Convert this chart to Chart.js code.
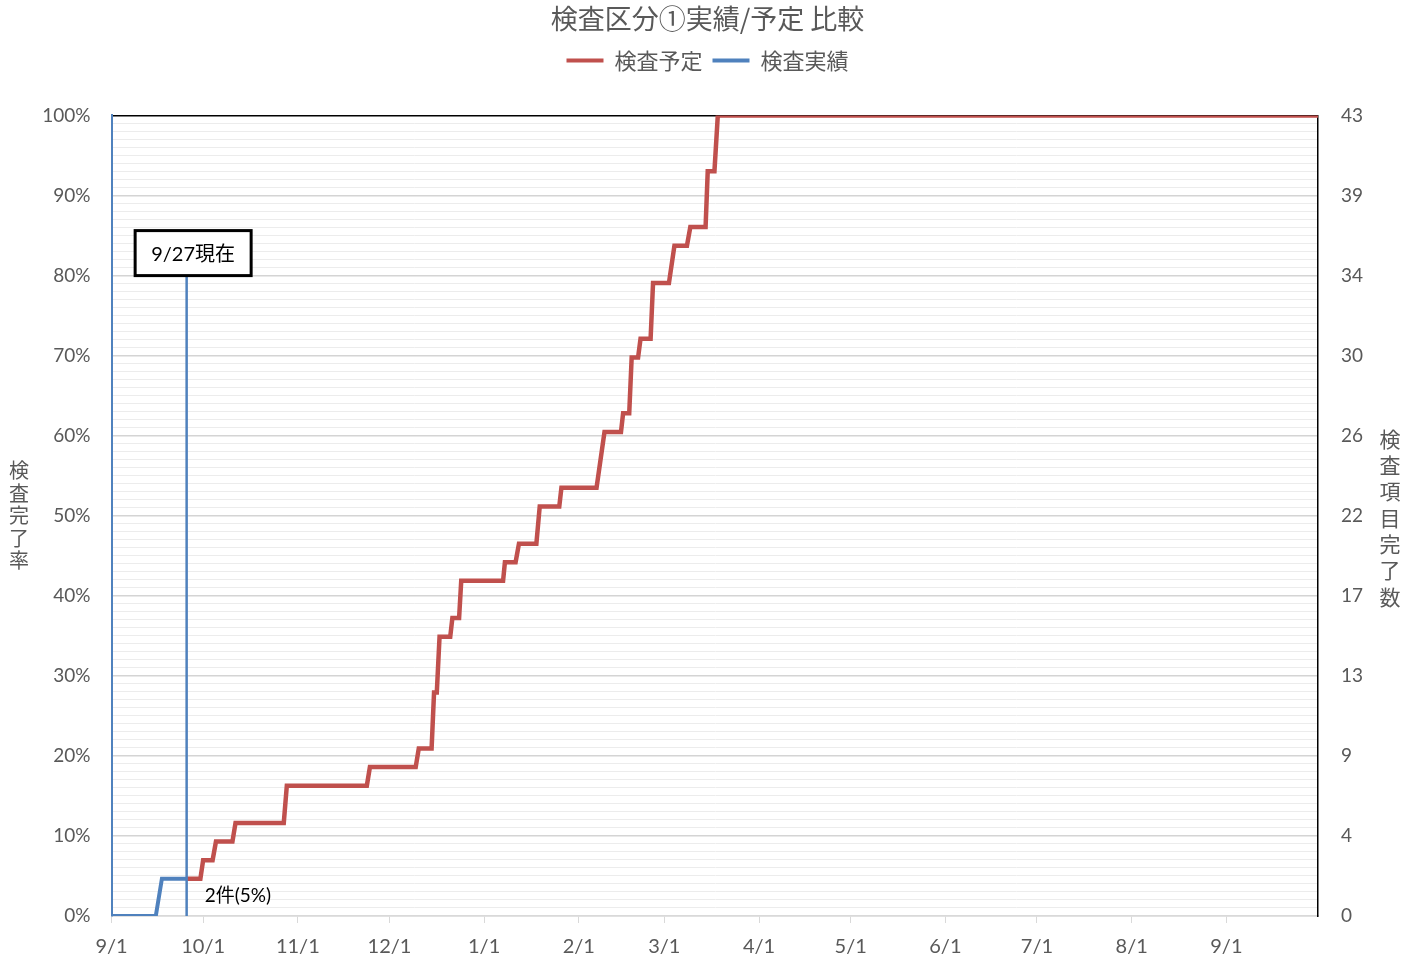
<!DOCTYPE html>
<html>
<head>
<meta charset="utf-8">
<script src="https://cdn.jsdelivr.net/npm/chart.js@4/dist/chart.umd.min.js"></script>
<style>
  html, body { margin: 0; padding: 0; background: #fff; }
  #wrap { width: 1415px; height: 966px; position: relative; }
</style>
</head>
<body>
<div id="wrap"><canvas id="c"></canvas></div>
<script>
// ---- data (x = days since 9/1) ----
const chartTitle = '検査区分①実績/予定 比較';
const seriesNames = ['検査予定', '検査実績'];
const totalItems = 43;

const xTickDays   = [0, 30, 61, 91, 122, 153, 181, 212, 242, 273, 303, 334, 365];
const xTickLabels = ['9/1','10/1','11/1','12/1','1/1','2/1','3/1','4/1','5/1','6/1','7/1','8/1','9/1'];
const xMaxDay = 395;

const leftTickLabels  = ['0%','10%','20%','30%','40%','50%','60%','70%','80%','90%','100%'];
const rightTickLabels = ['0','4','9','13','17','22','26','30','34','39','43'];
const leftAxisTitle  = '検査完了率';
const rightAxisTitle = '検査項目完了数';

// 検査予定 (planned cumulative count)
const planDay   = [24.7, 29.1, 30.0, 33.1, 34.2, 39.6, 40.6, 56.4, 57.4, 83.6, 84.6, 99.6, 100.6, 104.8, 105.6, 106.5, 107.4, 110.9, 111.6, 113.8, 114.5, 128.2, 128.8, 132.3, 133.4, 139.1, 140.2, 146.6, 147.3, 158.8, 161.4, 166.8, 167.5, 169.5, 170.3, 172.4, 173.2, 176.5, 177.3, 182.5, 184.3, 188.4, 189.5, 194.5, 195.2, 197.4, 198.5, 395];
const planCount = [2, 2, 3, 3, 4, 4, 5, 5, 7, 7, 8, 8, 9, 9, 12, 12, 15, 15, 16, 16, 18, 18, 19, 19, 20, 20, 22, 22, 23, 23, 26, 26, 27, 27, 30, 30, 31, 31, 34, 34, 36, 36, 37, 37, 40, 40, 43, 43];

// 検査実績 (actual cumulative count)
const actualDay   = [0, 14.5, 16.5, 24.6];
const actualCount = [0, 0, 2, 2];

// annotations
const markerDay = 24.6;
const markerLabel = '9/27現在';
const markerPct = 82.8;
const actualNote = '2件(5%)';
const actualNotePct = 2.5;

// ---- styling ----
const RED = '#c0504d';
const BLUE = '#4f81bd';
const GRAY = '#595959';
const FONT = "Lato, 'Noto Sans CJK JP', sans-serif";
const JFONT = "'Noto Sans CJK JP', sans-serif";

const toPts = (days, counts) => days.map((d, i) => ({ x: d, y: counts[i] / totalItems * 100 }));

const decor = {
  id: 'decor',
  afterDatasetsDraw(chart) {
    const { ctx, chartArea, scales: { x, y } } = chart;
    const mx = x.getPixelForValue(markerDay);
    const bw = 116, bh = 45;
    const bcx = mx + 6.5, bcy = y.getPixelForValue(markerPct);
    ctx.save();
    // marker line
    ctx.strokeStyle = BLUE; ctx.lineWidth = 2.5;
    ctx.beginPath(); ctx.moveTo(mx, bcy + bh / 2); ctx.lineTo(mx, chartArea.bottom); ctx.stroke();
    // marker box
    ctx.fillStyle = '#fff';
    ctx.fillRect(bcx - bw / 2, bcy - bh / 2, bw, bh);
    ctx.strokeStyle = '#000'; ctx.lineWidth = 3;
    ctx.strokeRect(bcx - bw / 2, bcy - bh / 2, bw, bh);
    ctx.fillStyle = '#000'; ctx.font = '20px ' + FONT;
    ctx.textAlign = 'center'; ctx.textBaseline = 'middle';
    ctx.fillText(markerLabel, bcx, bcy + 1);
    // actual note
    ctx.font = '19px ' + FONT; ctx.textAlign = 'left';
    ctx.fillText(actualNote, mx + 18, y.getPixelForValue(actualNotePct));
    // axis titles (stacked upright characters)
    ctx.fillStyle = GRAY; ctx.textAlign = 'center';
    const midY = (chartArea.top + chartArea.bottom) / 2;
    ctx.font = '20px ' + JFONT;
    const lc = [...leftAxisTitle];
    lc.forEach((ch, i) => ctx.fillText(ch, 19, midY + (i - (lc.length - 1) / 2) * 22.5));
    ctx.font = '21px ' + JFONT;
    const rc = [...rightAxisTitle];
    rc.forEach((ch, i) => ctx.fillText(ch, 1390, midY + 2 + (i - (rc.length - 1) / 2) * 26.3));
    ctx.restore();
  }
};

new Chart(document.getElementById('c'), {
  type: 'line',
  data: {
    datasets: [
      { label: seriesNames[0], data: toPts(planDay, planCount), borderColor: RED, backgroundColor: RED,
        borderWidth: 4.5, pointRadius: 0, tension: 0, yAxisID: 'y' },
      { label: seriesNames[1], data: toPts(actualDay, actualCount), borderColor: BLUE, backgroundColor: BLUE,
        borderWidth: 4, pointRadius: 0, tension: 0, yAxisID: 'y' }
    ]
  },
  options: {
    responsive: true, maintainAspectRatio: false, animation: false, devicePixelRatio: 1,
    layout: { padding: 0 },
    plugins: {
      title: { display: true, text: chartTitle, color: GRAY, font: { family: JFONT, size: 27, weight: 'normal' },
               padding: { top: 3, bottom: 4 } },
      subtitle: { display: true, text: '', font: { size: 1, lineHeight: 1 }, padding: { top: 33, bottom: 0 } },
      legend: { display: true, weight: 1700,
        labels: { color: GRAY, font: { family: JFONT, size: 22 }, boxWidth: 37, boxHeight: 4, padding: 10,
          generateLabels(chart) {
            return chart.data.datasets.map((ds, i) => ({ text: ds.label, fillStyle: ds.borderColor, strokeStyle: ds.borderColor,
              lineWidth: 0, hidden: false, datasetIndex: i, fontColor: GRAY }));
          } } },
      tooltip: { enabled: false }
    },
    scales: {
      x: { type: 'linear', min: 0, max: xMaxDay,
        afterBuildTicks(s) { s.ticks = xTickDays.map(v => ({ value: v })); },
        afterFit(s) { s.height = 50; },
        ticks: { autoSkip: false, maxRotation: 0, color: GRAY, font: { family: FONT, size: 20 }, padding: 12,
          callback(v, i) { return xTickLabels[i]; } },
        grid: { drawOnChartArea: false, drawTicks: true, tickLength: 7, color: '#d9d9d9' },
        border: { display: true, color: '#d9d9d9', width: 1.5 } },
      y: { position: 'left', min: 0, max: 100,
        afterBuildTicks(s) { const t = []; for (let v = 0; v <= 100; v++) t.push({ value: v }); s.ticks = t; },
        afterFit(s) { s.width = 111.5; },
        ticks: { autoSkip: false, color: GRAY, font: { family: FONT, size: 19 }, padding: 21,
          callback(v) { return v % 10 === 0 ? leftTickLabels[v / 10] : ''; } },
        grid: { drawTicks: false,
          color(c) { const v = c.tick.value; return v === 100 ? '#000' : (v % 10 === 0 ? '#d4d4d4' : '#ececec'); },
          lineWidth(c) { const v = c.tick.value; return v === 100 ? 1.5 : (v % 10 === 0 ? 1.5 : 1); } },
        border: { display: true, color: BLUE, width: 2 } },
      y1: { position: 'right', min: 0, max: totalItems,
        afterBuildTicks(s) { s.ticks = rightTickLabels.map((l, i) => ({ value: totalItems * i / (rightTickLabels.length - 1) })); },
        afterFit(s) { s.width = 97; },
        ticks: { autoSkip: false, color: GRAY, font: { family: FONT, size: 19 }, padding: 23,
          callback(v, i) { return rightTickLabels[i]; } },
        grid: { drawOnChartArea: false, drawTicks: false },
        border: { display: true, color: '#000', width: 1.5 } }
    }
  },
  plugins: [decor]
});
</script>
</body>
</html>
